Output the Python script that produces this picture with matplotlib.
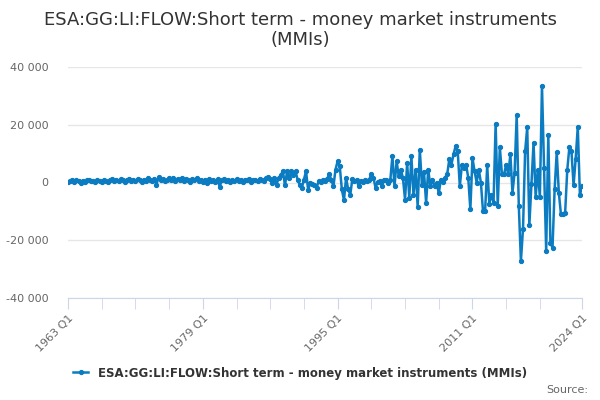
import numpy as np
import matplotlib
matplotlib.use("Agg")
import matplotlib.pyplot as plt
from matplotlib.ticker import FuncFormatter, FixedLocator

# Quarterly flows, 1963 Q1 .. 2024 Q1
flows_1963_1986 = [
    200, 500, 800, 300, 900, 400, -200, 600, 300, 700, 1000, 400, 600, 200, 800, 500,
    300, 900, 600, 200, 700, 1100, 500, 800, 400, 1200, 700, 300, 900, 1300, 600, 1000,
    500, 1200, 800, 300, 1000, 600, 1400, 900, 500, 1100, -700, 1800, 700, 1200, 400, 1000,
    1500, 800, 1700, 600, 1300, 900, 1600, 500, 1100, 700, 300, 1200, 800, 1500, 400, 900,
    300, 1000, -300, 1200, 600, 900, 200, 1100, -1500, 800, 1300, 500, 1000, 300, 800, 600,
    1100, 400, 900, 200, 1000, 700, 1200, 300, 800, 1000, 500, 1300, 900, 600, 1400, 2000,
]
flows_1987_2000 = [
    1200, -300, 1500, -700, 1600, 2500, 3900, -1000, 3900, 1600, 3900, 2600, 3900, 1000,
    -700, -1800, 1000, 3900, -2600, 0, -400, -700, -1800, 500, 300, 1000, 600, 1200,
    2800, 1000, -1300, 4500, 7400, 5600, -2400, -6100, 1600, -2400, -4200, 1300, 500,
    900, -1300, 500, 200, 800, 400, 1000, 3000, 1600, -1800, 200, 500, -1300, 1000,
]
flows_2000_2012 = [
    1000, 0, 800, 9100, -1300, 7400, 2200, 4500, 1500, -5900, 6800, -5300, 9100, -4200,
    4500, -8500, 11400, -700, 3500, -7000, 4500, -1300, 1000, -1300, 0, -3800, 1000, 200,
    1700, 2800, 8000, 6200, 9700, 12600, 10800, -1300, 6200, 5000, 6200, 1600, -9300,
    8500, 3900, 0, 4500, 0, -9900, -9900,
]
flows_2012_2024 = [
    5900, -7300, -4200, -7000, 20400, -8000, 12200, 2800, 2800, 6200, 2800, 9700, -3500,
    3400, 23500, -8200, -27200, -16000, 10800, 19100, -14800, -350, 13800, -5100, 4500,
    -5100, 33500, 5100, -23800, 16600, -20800, -22600, -2400, 10500, -3500, -11000,
    -10800, -10400, 4300, 12200, 10800, -1000, 8300, 19300, -4200, -1300,
]

tick_positions = [0, 64, 128, 192, 244]
tick_labels = ["1963 Q1", "1979 Q1", "1995 Q1", "2011 Q1", "2024 Q1"]
y_ticks = [-40000, -20000, 0, 20000, 40000]

series_name = "ESA:GG:LI:FLOW:Short term - money market instruments (MMIs)"
LINE_COLOR = "#0b7cc1"

values = np.array(flows_1963_1986 + flows_1987_2000 + flows_2000_2012 + flows_2012_2024)
x = np.arange(len(values))


def space_thousands(v, pos=None):
    """Format numbers like 20 000 with a space separator"""
    return f"{int(round(v)):,}".replace(",", " ")


fig = plt.figure(figsize=(6, 4), dpi=100)
ax = fig.add_axes([68 / 600, 1 - 298 / 400, (582 - 68) / 600, (298 - 67) / 400])

for side in ["left", "right", "top"]:
    ax.spines[side].set_visible(False)
ax.spines["bottom"].set_color("#ccd6eb")

line, = ax.plot(x, values, color=LINE_COLOR, linewidth=1.8, marker="o",
                markersize=2.8, label=series_name, zorder=3)

# y axis: gridlines only, no spine
ax.set_ylim(-40000, 40000)
ax.set_yticks(y_ticks)
ax.yaxis.set_major_formatter(FuncFormatter(space_thousands))
ax.grid(axis="y", color="#e6e6e6", linewidth=1)
ax.tick_params(axis="y", length=0, labelsize=8, labelcolor="#666666", pad=14)

# x axis: minor ticks every 4 years plus the last quarter, labels on a few
ax.set_xlim(0, len(values) - 1)
ax.xaxis.set_minor_locator(FixedLocator(list(range(0, 225, 16)) + [244]))
ax.set_xticks(tick_positions)
ax.set_xticklabels(tick_labels, rotation=45, ha="right", rotation_mode="anchor")
ax.tick_params(axis="x", which="both", direction="out", length=8, color="#ccd6eb",
               labelsize=8, labelcolor="#666666", pad=3)
ax.set_axisbelow(True)

fig.text(0.5, 1 - 30 / 400, "ESA:GG:LI:FLOW:Short term - money market instruments\n(MMIs)",
         ha="center", va="center", fontsize=13, color="#333333", linespacing=1.2)

ax.legend(handles=[line], loc="center", bbox_to_anchor=(0.5, 1 - 373 / 400),
          bbox_transform=fig.transFigure, frameon=False, handlelength=1.3,
          prop={"size": 8.5, "weight": "bold"}, labelcolor="#333333")

fig.text(588 / 600, 1 - 390 / 400, "Source:", ha="right", va="center",
         fontsize=8, color="#666666")

fig.savefig("out.png", dpi=100)
